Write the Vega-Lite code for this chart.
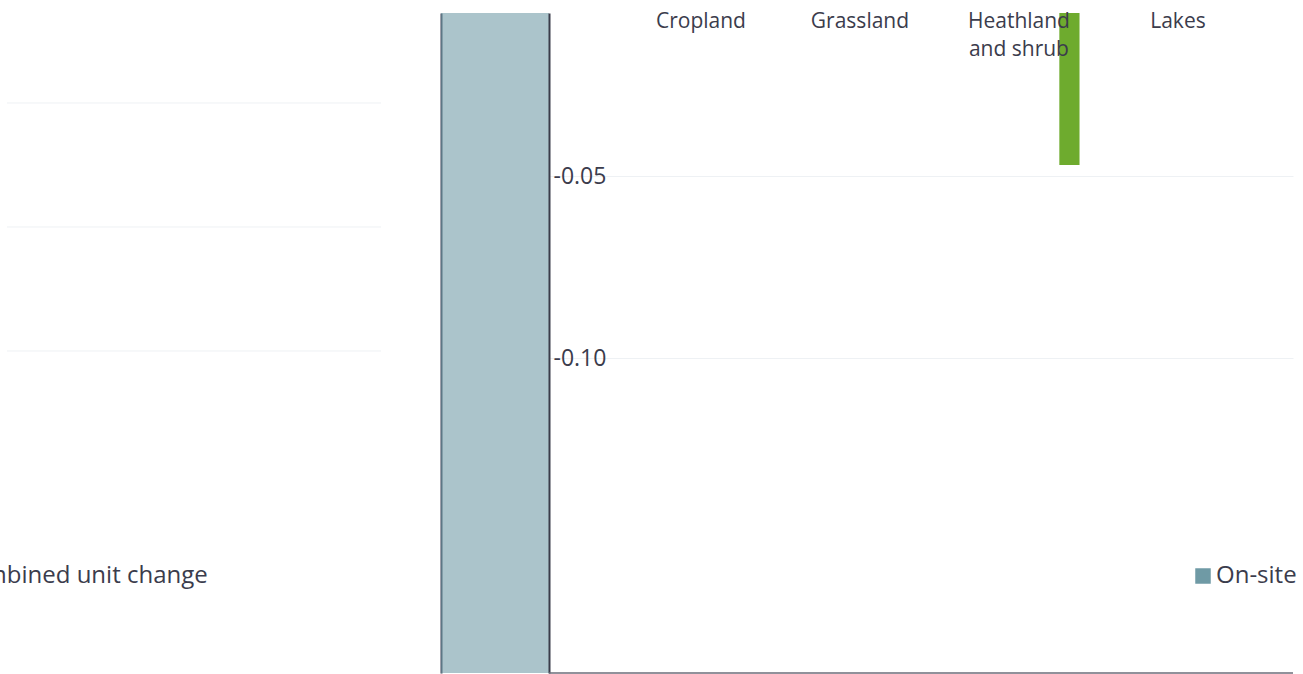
{
  "$schema": "https://vega.github.io/schema/vega-lite/v6.json",
  "padding": {"left": -70, "top": 10, "right": 0, "bottom": 0},
  "config": {"view": {"stroke": null}, "font": "Open Sans"},
  "spacing": 60,
  "bounds": "flush",
  "resolve": {"scale": {"x": "independent", "y": "independent"}},
  "hconcat": [
    {
      "width": 374,
      "height": 660,
      "data": {"values": [{"level": 0.1}, {"level": 0.2}, {"level": 0.3}]},
      "mark": {"type": "rule", "color": "#eef1f4", "strokeWidth": 1},
      "encoding": {
        "y": {"field": "level", "type": "quantitative", "scale": {"domain": [-0.15968, 0.37258], "nice": false, "zero": false}, "axis": null}
      }
    },
    {
      "spacing": 0,
      "bounds": "flush",
      "resolve": {"scale": {"x": "independent", "y": "independent"}},
      "hconcat": [
        {
          "width": 108,
          "height": 660,
          "data": {"values": [{"group": "Total", "series": "On-site", "units": -0.3}]},
          "mark": {"type": "bar", "clip": true, "opacity": 0.58},
          "encoding": {
            "x": {"field": "group", "type": "nominal", "scale": {"paddingInner": 0, "paddingOuter": 0}, "axis": null},
            "y": {"field": "units", "type": "quantitative", "scale": {"domain": [-0.18654, -0.00522], "nice": false, "zero": false},
                  "axis": {"orient": "left", "labels": false, "ticks": false, "tickSize": 0, "grid": false, "domain": true, "domainColor": "#45475a", "domainWidth": 2, "title": null}},
            "y2": {"datum": 0},
            "color": {"field": "series", "type": "nominal",
                      "scale": {"domain": ["Combined unit change", "On-site"], "range": ["#2f4b7c", "#6f9aa5"]},
                      "legend": {"orient": "none", "legendX": -77, "legendY": 551, "direction": "horizontal", "title": null,
                                 "symbolType": "square", "symbolSize": 240, "symbolStrokeWidth": 0, "symbolOpacity": 1,
                                 "labelFontSize": 24, "labelColor": "#3b3c4c", "labelOffset": 1, "labelLimit": 400,
                                 "columnPadding": 983, "padding": 0, "offset": 0}}
          }
        },
        {
          "width": 744,
          "height": 660,
          "data": {"values": [{"habitat": "Heathland and shrub", "series": "Net change", "change": -0.047}]},
          "layer": [
            {
              "mark": {"type": "bar", "clip": true, "color": "#6eab2e"},
              "encoding": {
                "x": {"field": "habitat", "type": "nominal",
                      "scale": {"domain": ["Cropland", "Grassland", "Heathland and shrub", "Lakes"], "paddingInner": 0.2, "paddingOuter": 0.4396, "align": 0.632},
                      "axis": {"orient": "top", "title": null, "domain": false, "ticks": false, "tickSize": 0, "grid": false, "zindex": 1,
                               "labelAngle": 0, "labelAlign": "center", "labelBaseline": "top", "labelPadding": 2.8,
                               "labelFontSize": 21, "labelColor": "#3b3c4c", "labelLineHeight": 28, "labelOverlap": false,
                               "labelExpr": "datum.label == 'Heathland and shrub' ? ['Heathland', 'and shrub'] : datum.label"}},
                "xOffset": {"field": "series", "type": "nominal",
                            "scale": {"domain": ["Baseline", "Lost", "Retained", "Enhanced", "Created", "Net change"], "paddingInner": 0, "paddingOuter": 0.15}},
                "y": {"field": "change", "type": "quantitative",
                      "scale": {"domain": [-0.18654, -0.00522], "nice": false, "zero": false},
                      "axis": {"orient": "left", "values": [-0.05, -0.1], "labelExpr": "'-' + format(abs(datum.value), '.2f')",
                               "ticks": false, "tickSize": 0, "grid": true, "gridColor": "#eef1f4", "gridWidth": 1,
                               "domain": true, "domainColor": "#3a3c4a", "domainWidth": 2,
                               "labelAlign": "left", "labelPadding": -4, "labelFontSize": 23, "labelColor": "#3b3c4c",
                               "labelBaseline": "middle", "labelOffset": 0.5, "labelFlush": false, "title": null}},
                "y2": {"datum": 0}
              }
            },
            {
              "mark": {"type": "rule", "color": "#6b6c78", "strokeWidth": 1.5},
              "encoding": {"y": {"datum": -0.18654}}
            }
          ]
        }
      ]
    }
  ]
}
